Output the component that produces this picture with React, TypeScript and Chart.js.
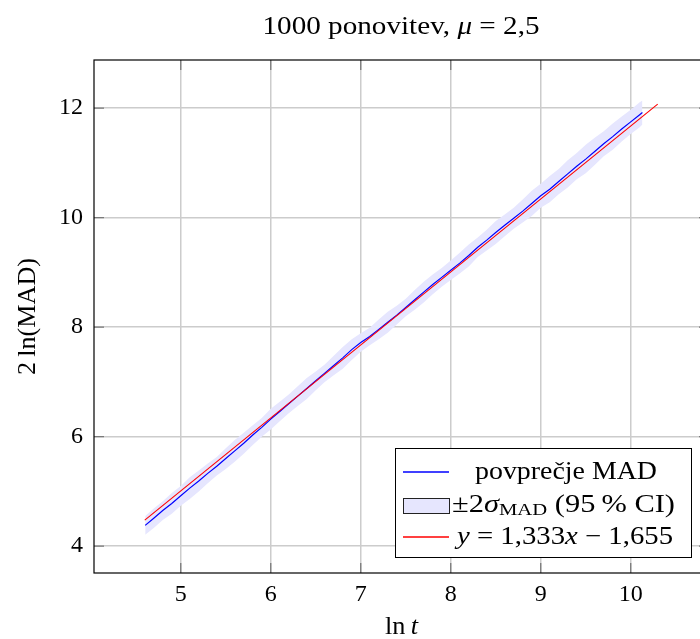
import React, { useEffect, useRef } from "react";
import { Chart, registerables } from "chart.js";

Chart.register(...registerables);

// ---- data ----
const lnT = [
  4.605, 4.7, 4.8, 4.9, 5.0, 5.1, 5.2, 5.3, 5.4, 5.5, 5.6, 5.7, 5.8, 5.9, 6.0,
  6.1, 6.2, 6.3, 6.4, 6.5, 6.6, 6.7, 6.8, 6.9, 7.0, 7.1, 7.2, 7.3, 7.4, 7.5,
  7.6, 7.7, 7.8, 7.9, 8.0, 8.1, 8.2, 8.3, 8.4, 8.5, 8.6, 8.7, 8.8, 8.9, 9.0,
  9.1, 9.2, 9.3, 9.4, 9.5, 9.6, 9.7, 9.8, 9.9, 10.0, 10.1, 10.13,
];
const meanMAD = [
  4.38, 4.51, 4.65, 4.78, 4.92, 5.06, 5.19, 5.33, 5.46, 5.6, 5.74, 5.88, 6.03,
  6.17, 6.32, 6.46, 6.6, 6.74, 6.88, 7.02, 7.16, 7.3, 7.44, 7.59, 7.72, 7.83,
  7.96, 8.09, 8.22, 8.36, 8.5, 8.64, 8.78, 8.91, 9.04, 9.17, 9.31, 9.46, 9.59,
  9.73, 9.86, 9.99, 10.12, 10.26, 10.4, 10.52, 10.66, 10.8, 10.94, 11.07,
  11.21, 11.35, 11.48, 11.62, 11.75, 11.88, 11.92,
];
const twoSigma = [
  0.17, 0.18, 0.17, 0.19, 0.18, 0.2, 0.19, 0.18, 0.17, 0.19,
  0.2, 0.19, 0.18, 0.17, 0.19, 0.18, 0.17, 0.18, 0.19, 0.17,
  0.16, 0.18, 0.2, 0.19, 0.17, 0.16, 0.18, 0.19, 0.17, 0.16,
  0.18, 0.19, 0.18, 0.17, 0.18, 0.19, 0.2, 0.18, 0.19, 0.21,
  0.2, 0.19, 0.21, 0.23, 0.22, 0.24, 0.23, 0.25, 0.24, 0.26,
  0.25, 0.23, 0.24, 0.23, 0.22, 0.23, 0.22,
];
const fitX = [4.6, 10.3];
const fitY = [4.477, 12.075];
const xTicks = [5, 6, 7, 8, 9, 10];
const yTicks = [4, 6, 8, 10, 12];

const SERIF = '"Liberation Serif", "DejaVu Serif", serif';
const FS = 25;
const roman = `${FS}px ${SERIF}`;
const italic = `italic ${FS}px ${SERIF}`;
const small = `17px ${SERIF}`;

const BLUE = "#0000ff";
const RED = "#ff0000";
const BAND = "rgb(230,230,254)";

type Seg = { t: string; f: string; dy?: number };

// draws a run of mixed-font text; optionally stretched horizontally to a
// target width (Computer Modern is wider than Liberation Serif)
function drawRich(
  ctx: CanvasRenderingContext2D,
  segs: Seg[],
  x: number,
  y: number,
  target?: number
) {
  let w = 0;
  for (const s of segs) {
    ctx.font = s.f;
    w += ctx.measureText(s.t).width;
  }
  const sx = target ? Math.min(1.25, Math.max(0.9, target / w)) : 1;
  ctx.save();
  ctx.translate(x - (w * sx) / 2, y);
  ctx.scale(sx, 1);
  ctx.textAlign = "left";
  let cx = 0;
  for (const s of segs) {
    ctx.font = s.f;
    ctx.fillText(s.t, cx, s.dy || 0);
    cx += ctx.measureText(s.t).width;
  }
  ctx.restore();
}

function hLine(ctx: CanvasRenderingContext2D, x0: number, x1: number, y: number, color: string) {
  ctx.save();
  ctx.strokeStyle = color;
  ctx.lineWidth = 1.3;
  ctx.beginPath();
  ctx.moveTo(x0, y);
  ctx.lineTo(x1, y);
  ctx.stroke();
  ctx.restore();
}

const decor = {
  id: "decor",
  afterDraw(chart: any) {
    const ctx: CanvasRenderingContext2D = chart.ctx;
    const a = chart.chartArea;
    const xs = chart.scales.x;
    const ys = chart.scales.y;
    ctx.save();
    // inner tick marks
    ctx.strokeStyle = "#7a7a7a";
    ctx.lineWidth = 1.3;
    ctx.beginPath();
    for (const v of xTicks) {
      const p = xs.getPixelForValue(v);
      ctx.moveTo(p, a.bottom);
      ctx.lineTo(p, a.bottom - 10);
      ctx.moveTo(p, a.top);
      ctx.lineTo(p, a.top + 10);
    }
    for (const v of yTicks) {
      const p = ys.getPixelForValue(v);
      ctx.moveTo(a.left, p);
      ctx.lineTo(a.left + 10, p);
      ctx.moveTo(a.right, p);
      ctx.lineTo(a.right - 10, p);
    }
    ctx.stroke();
    // frame
    ctx.strokeStyle = "#000";
    ctx.lineWidth = 1.2;
    ctx.strokeRect(a.left, a.top, a.right - a.left, a.bottom - a.top);

    ctx.fillStyle = "#000";
    ctx.textBaseline = "alphabetic";
    const cxPlot = (a.left + a.right) / 2;
    // title
    drawRich(ctx, [
      { t: "1000 ponovitev, ", f: roman },
      { t: "μ", f: italic },
      { t: " = 2,5", f: roman },
    ], 401, 34, 277);
    // x title
    drawRich(ctx, [
      { t: "ln\u2009", f: roman },
      { t: "t", f: italic },
    ], cxPlot, 634, 33);
    // y title
    ctx.save();
    ctx.translate(28, (a.top + a.bottom) / 2);
    ctx.rotate(-Math.PI / 2);
    ctx.textBaseline = "middle";
    drawRich(ctx, [{ t: "2\u2009ln(MAD)", f: roman }], 0, 0, 117);
    ctx.restore();

    // legend
    const bx = 395, by = 448, bw = 296, bh = 109;
    ctx.fillStyle = "#fff";
    ctx.fillRect(bx, by, bw, bh);
    ctx.strokeStyle = "#000";
    ctx.lineWidth = 1;
    ctx.strokeRect(bx + 0.5, by + 0.5, bw, bh);
    const rows = [472, 505, 537];
    const sx0 = 403, sx1 = 449;
    hLine(ctx, sx0, sx1, rows[0], BLUE);
    ctx.fillStyle = BAND;
    ctx.fillRect(sx0, rows[1] - 7, sx1 - sx0, 15);
    ctx.strokeStyle = "#222";
    ctx.lineWidth = 1;
    ctx.strokeRect(sx0 + 0.5, rows[1] - 7 + 0.5, sx1 - sx0, 15);
    hLine(ctx, sx0, sx1, rows[2], RED);

    ctx.fillStyle = "#000";
    ctx.textBaseline = "middle";
    drawRich(ctx, [{ t: "povprečje MAD", f: roman }], 566, rows[0], 182);
    drawRich(ctx, [
      { t: "±2", f: roman },
      { t: "σ", f: italic },
      { t: "MAD", f: small, dy: 6 },
      { t: " (95\u2009% CI)", f: roman },
    ], 563.5, rows[1], 223);
    drawRich(ctx, [
      { t: "y", f: italic },
      { t: " = 1,333", f: roman },
      { t: "x", f: italic },
      { t: " − 1,655", f: roman },
    ], 565, rows[2], 216);
    ctx.restore();
  },
};

export default function App() {
  const ref = useRef<HTMLCanvasElement | null>(null);
  useEffect(() => {
    if (!ref.current) return;
    const upper = lnT.map((x, i) => ({ x, y: meanMAD[i] + twoSigma[i] }));
    const lower = lnT.map((x, i) => ({ x, y: meanMAD[i] - twoSigma[i] }));
    const mean = lnT.map((x, i) => ({ x, y: meanMAD[i] }));
    const fit = fitX.map((x, i) => ({ x, y: fitY[i] }));
    const tickFont = { family: SERIF, size: 24 };
    const chart = new Chart(ref.current, {
      type: "line",
      data: {
        datasets: [
          { label: "fit", data: fit, borderColor: RED, borderWidth: 1.1, pointRadius: 0, fill: false, tension: 0 },
          { label: "mean", data: mean, borderColor: BLUE, borderWidth: 1.2, pointRadius: 0, fill: false, tension: 0 },
          { label: "upper", data: upper, borderWidth: 0, borderColor: "rgba(0,0,0,0)", pointRadius: 0, fill: false },
          { label: "lower", data: lower, borderWidth: 0, borderColor: "rgba(0,0,0,0)", backgroundColor: BAND, pointRadius: 0, fill: "-1" },
        ],
      } as any,
      options: {
        responsive: false,
        devicePixelRatio: 1,
        animation: false,
        layout: { padding: { top: 60, right: 3, left: 0, bottom: 0 } },
        plugins: { legend: { display: false }, tooltip: { enabled: false }, title: { display: false } },
        scales: {
          x: {
            type: "linear",
            min: 4.036,
            max: 10.87,
            afterBuildTicks: (s: any) => { s.ticks = xTicks.map((v) => ({ value: v })); },
            afterFit: (s: any) => { s.height = 66; },
            ticks: { font: tickFont, color: "#000", padding: 7, maxRotation: 0, autoSkip: false, callback: (v: any) => String(v) },
            grid: { color: "#cccccc", lineWidth: 1.5, drawTicks: false },
            border: { display: false },
          },
          y: {
            type: "linear",
            min: 3.51,
            max: 12.88,
            afterBuildTicks: (s: any) => { s.ticks = yTicks.map((v) => ({ value: v })); },
            afterFit: (s: any) => { s.width = 94; },
            ticks: { font: tickFont, color: "#000", padding: 11, autoSkip: false, callback: (v: any) => String(v) },
            grid: { color: "#cccccc", lineWidth: 1.5, drawTicks: false },
            border: { display: false },
          },
        },
      } as any,
      plugins: [decor],
    });
    return () => chart.destroy();
  }, []);
  return (
    <div style={{ position: "fixed", left: 0, top: 0, width: 700, height: 639, overflow: "hidden", background: "#fff" }}>
      <canvas ref={ref} width={712} height={639} style={{ display: "block", width: 712, height: 639 }} />
    </div>
  );
}
